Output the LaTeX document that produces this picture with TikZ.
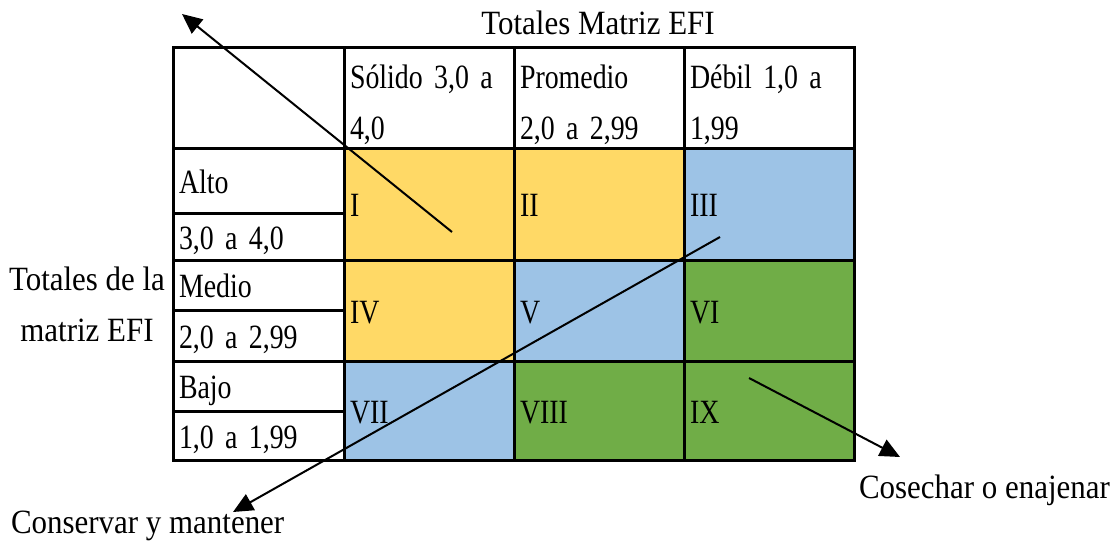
\documentclass[tikz,border=0pt]{standalone}
\usepackage{fontspec}
\setmainfont{Liberation Serif}[FakeStretch=0.91]
\newfontfamily\cellfont{Liberation Serif}[FakeStretch=0.82]
\usetikzlibrary{arrows.meta,positioning}
\definecolor{CellGold}{HTML}{FFD966}
\definecolor{CellBlue}{HTML}{9DC3E6}
\definecolor{CellGreen}{HTML}{70AD47}

\begin{document}
\begin{tikzpicture}[x=0.5pt,y=-0.5pt,
  font=\fontsize{17}{25.5}\selectfont,
  cell/.style={rectangle,draw=black,line width=1.5pt,align=left,inner xsep=3pt,inner ysep=0pt,outer sep=0pt,
    font=\cellfont\fontsize{17}{25.5}\selectfont},
  labelcell/.style={cell,fill=white,text width=79.5pt,text height=15pt,text depth=2.5pt},
  headcell/.style={cell,fill=white,text width=79pt,minimum height=50pt},
  zone/.style={cell,text width=79pt,text height=15pt,text depth=2.5pt},
  arrow/.style={-{Triangle[length=10pt,width=9pt]},draw=black,line width=1pt}
]
\useasboundingbox (0,0) rectangle (1118,556);
% header row
\node[labelcell,minimum height=50pt,anchor=north west] (corner) at (173,48) {};
\node[headcell,right=0pt of corner] (solido) {\rule{0pt}{18.5pt}Sólido 3,0 a\\4,0\rule[-2.5pt]{0pt}{0pt}};
\node[headcell,right=0pt of solido] (promedio) {\rule{0pt}{18.5pt}Promedio\\2,0 a 2,99\rule[-2.5pt]{0pt}{0pt}};
\node[headcell,right=0pt of promedio] (debil) {\rule{0pt}{18.5pt}Débil 1,0 a\\1,99\rule[-2.5pt]{0pt}{0pt}};
% row labels
\node[labelcell,minimum height=32.5pt,below=0pt of corner] (alto) {Alto};
\node[labelcell,minimum height=23.5pt,below=0pt of alto] (altoval) {3,0 a 4,0};
\node[labelcell,minimum height=25pt,below=0pt of altoval] (medio) {Medio};
\node[labelcell,minimum height=25.5pt,below=0pt of medio] (medioval) {2,0 a 2,99};
\node[labelcell,minimum height=25pt,below=0pt of medioval] (bajo) {Bajo};
\node[labelcell,minimum height=24.5pt,below=0pt of bajo] (bajoval) {1,0 a 1,99};
% matrix cells
\node[zone,fill=CellGold,minimum height=56pt,below=0pt of solido] (z1) {I};
\node[zone,fill=CellGold,minimum height=56pt,right=0pt of z1] (z2) {II};
\node[zone,fill=CellBlue,minimum height=56pt,right=0pt of z2] (z3) {III};
\node[zone,fill=CellGold,minimum height=50.5pt,below=0pt of z1] (z4) {IV};
\node[zone,fill=CellBlue,minimum height=50.5pt,right=0pt of z4] (z5) {V};
\node[zone,fill=CellGreen,minimum height=50.5pt,right=0pt of z5] (z6) {VI};
\node[zone,fill=CellBlue,minimum height=49.5pt,below=0pt of z4] (z7) {VII};
\node[zone,fill=CellGreen,minimum height=49.5pt,right=0pt of z7] (z8) {VIII};
\node[zone,fill=CellGreen,minimum height=49.5pt,right=0pt of z8] (z9) {IX};
% axis titles
\node[anchor=base] (efetitle) at (598,35) {Totales Matriz EFI};
\node[align=center] (efititle) at (87,304) {Totales de la\\matriz EFI};
\node[anchor=base west] (conservar) at (4,533) {Conservar y mantener};
\node[anchor=base west] (cosechar) at (852,498) {Cosechar o enajenar};
% strategy arrows
\coordinate (crecerA) at (452,232);
\coordinate (crecerB) at (182,14);
\coordinate (conservarA) at (720,237);
\coordinate (conservarB) at (233,512);
\coordinate (cosecharA) at (749,378);
\coordinate (cosecharB) at (900,457);
\draw[arrow] (crecerA) -- (crecerB);
\draw[arrow] (conservarA) -- (conservarB);
\draw[arrow] (cosecharA) -- (cosecharB);
\end{tikzpicture}
\end{document}
